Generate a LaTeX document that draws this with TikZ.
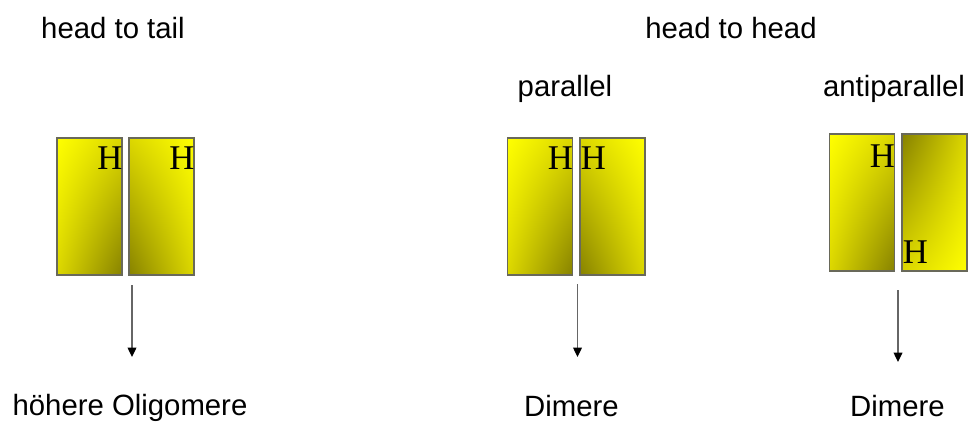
\documentclass[tikz,border=0pt]{standalone}
\usepackage{fontspec}
\setmainfont{Liberation Sans}
\newfontfamily\hfont{Liberation Serif}
\usetikzlibrary{positioning, arrows.meta, shadings}
\definecolor{strandlight}{RGB}{255,255,0}
\definecolor{strandmid}{RGB}{220,215,0}
\definecolor{stranddark}{RGB}{135,130,0}
\definecolor{strandline}{RGB}{105,105,90}
\tikzstyle{strand} = [rectangle, draw=strandline, line width=1pt, minimum width=48.75pt, minimum height=102.75pt, inner sep=0pt, shade]
\tikzstyle{fadeleft} = [strand, upper left=strandlight, upper right=strandmid, lower left=strandmid, lower right=stranddark]
\tikzstyle{faderight} = [strand, upper left=strandmid, upper right=strandlight, lower left=stranddark, lower right=strandmid]
\tikzstyle{fadeup} = [strand, upper left=stranddark, upper right=strandmid, lower left=strandmid, lower right=strandlight]
\tikzstyle{head} = [inner sep=0pt, font=\hfont\fontsize{26}{26}\selectfont]
\tikzstyle{caption} = [anchor=base, inner sep=0pt, font=\fontsize{22}{22}\selectfont]
\tikzstyle{myarrow} = [-{Triangle[width=6.5pt,length=7pt,color=black]}, draw=black!60, line width=1pt]

\begin{document}
\begin{tikzpicture}[x=0.75pt, y=-0.75pt]
\useasboundingbox (0,0) rectangle (974,422);

% titles
\node[caption] (tail) at (113,38) {head to tail};
\node[caption] (hh) at (731,38) {head to head};
\node[caption] (par) at (565,96) {parallel};
\node[caption] (anti) at (894,96) {antiparallel};

% head to tail
\node[fadeleft] (tl) at (89.5,206.5) {};
\node[faderight] (tr) at (161.5,206.5) {};
\node[head, below left=7pt and 0pt of tl.north east] {H};
\node[head, below left=7pt and 0pt of tr.north east] {H};

% parallel
\node[fadeleft] (pl) at (540,206.5) {};
\node[faderight] (pr) at (612.5,206.5) {};
\node[head, below left=7pt and 0pt of pl.north east] {H};
\node[head, below right=7pt and 1pt of pr.north west] {H};

% antiparallel
\node[fadeleft] (al) at (862,202.5) {};
\node[fadeup] (ar) at (934.5,202.5) {};
\node[head, below left=8.5pt and 0pt of al.north east] {H};
\node[head, above right=6pt and 1pt of ar.south west] {H};

% products
\node[caption] (olig) at (130,415) {höhere Oligomere};
\node[caption] (dimp) at (571.5,416) {Dimere};
\node[caption] (dima) at (897.5,416) {Dimere};

\coordinate (ts) at (132,285);
\coordinate (te) at (132,357);
\coordinate (ps) at (577.5,284);
\coordinate (pe) at (577.5,357);
\coordinate (as) at (898,290);
\coordinate (ae) at (898,362);

\draw [myarrow] (ts) -- (te);
\draw [myarrow] (ps) -- (pe);
\draw [myarrow] (as) -- (ae);
\end{tikzpicture}
\end{document}
